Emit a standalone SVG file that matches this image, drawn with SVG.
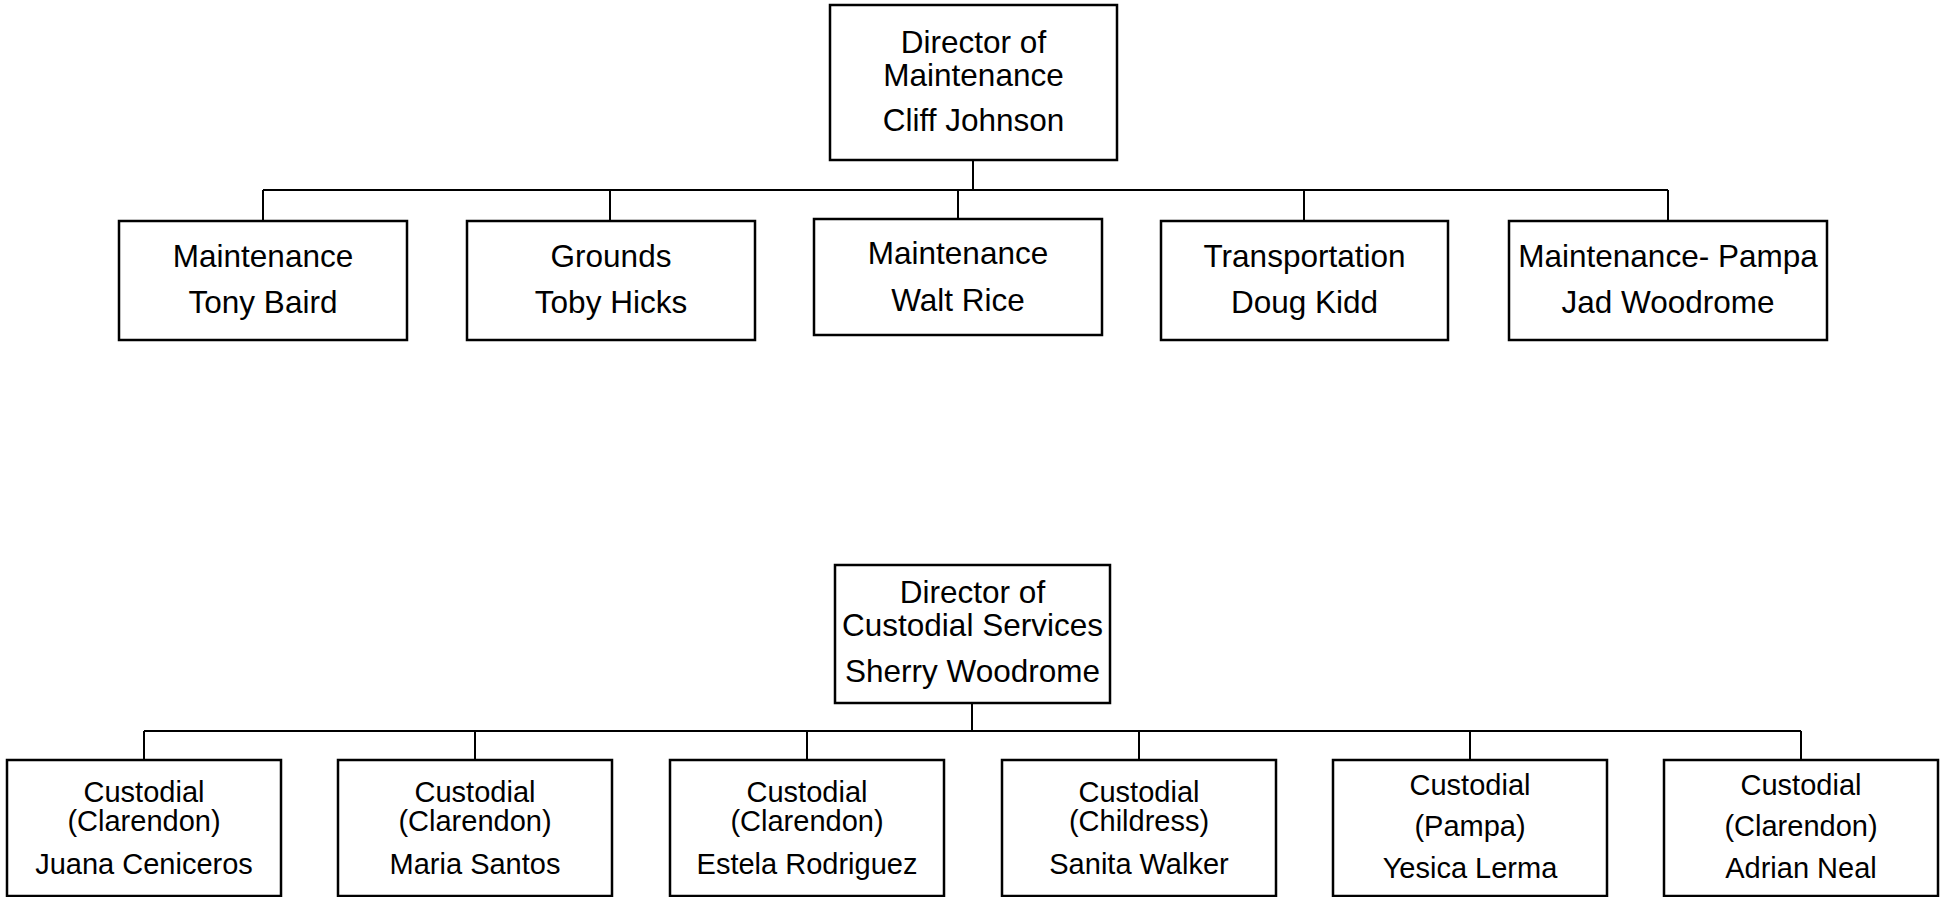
<svg xmlns="http://www.w3.org/2000/svg" width="1948" height="897" viewBox="0 0 1948 897">
<style>
.box{fill:#fff;stroke:#000;stroke-width:2.5}
.conn{fill:none;stroke:#000;stroke-width:2}
text{font-family:"Liberation Sans",Arial,sans-serif;fill:#000;text-anchor:middle}
.t1{font-size:31.5px}
.t2{font-size:29px}
</style>
<rect width="1948" height="897" fill="#fff"/>
<g id="connectors">
<path class="conn" d="M973 160V190M263 190H1668M263 190V221M610 190V221M958 190V219M1304 190V221M1668 190V221"/>
<path class="conn" d="M972 703V731M144 731H1801M144 731V760M475 731V760M807 731V760M1139 731V760M1470 731V760M1801 731V760"/>
</g>
<g id="dir-maint">
<rect class="box" x="830" y="5" width="287" height="155"/>
<text class="t1" x="973.5" y="53">Director of</text>
<text class="t1" x="973.5" y="86">Maintenance</text>
<text class="t1" x="973.5" y="131">Cliff Johnson</text>
</g>
<g id="maint-baird">
<rect class="box" x="119" y="221" width="288" height="119"/>
<text class="t1" x="263" y="267">Maintenance</text>
<text class="t1" x="263" y="313">Tony Baird</text>
</g>
<g id="grounds-hicks">
<rect class="box" x="467" y="221" width="288" height="119"/>
<text class="t1" x="611" y="267">Grounds</text>
<text class="t1" x="611" y="313">Toby Hicks</text>
</g>
<g id="maint-rice">
<rect class="box" x="814" y="219" width="288" height="116"/>
<text class="t1" x="958" y="264">Maintenance</text>
<text class="t1" x="958" y="311">Walt Rice</text>
</g>
<g id="transport-kidd">
<rect class="box" x="1161" y="221" width="287" height="119"/>
<text class="t1" x="1304.5" y="267">Transportation</text>
<text class="t1" x="1304.5" y="313">Doug Kidd</text>
</g>
<g id="maint-pampa">
<rect class="box" x="1509" y="221" width="318" height="119"/>
<text class="t1" x="1668" y="267">Maintenance- Pampa</text>
<text class="t1" x="1668" y="313">Jad Woodrome</text>
</g>
<g id="dir-custodial">
<rect class="box" x="835" y="565" width="275" height="138"/>
<text class="t1" x="972.5" y="603">Director of</text>
<text class="t1" x="972.5" y="636">Custodial Services</text>
<text class="t1" x="972.5" y="682">Sherry Woodrome</text>
</g>
<g id="cust-ceniceros">
<rect class="box" x="7" y="760" width="274" height="136"/>
<text class="t2" x="144" y="802">Custodial</text>
<text class="t2" x="144" y="831">(Clarendon)</text>
<text class="t2" x="144" y="874">Juana Ceniceros</text>
</g>
<g id="cust-santos">
<rect class="box" x="338" y="760" width="274" height="136"/>
<text class="t2" x="475" y="802">Custodial</text>
<text class="t2" x="475" y="831">(Clarendon)</text>
<text class="t2" x="475" y="874">Maria Santos</text>
</g>
<g id="cust-rodriguez">
<rect class="box" x="670" y="760" width="274" height="136"/>
<text class="t2" x="807" y="802">Custodial</text>
<text class="t2" x="807" y="831">(Clarendon)</text>
<text class="t2" x="807" y="874">Estela Rodriguez</text>
</g>
<g id="cust-walker">
<rect class="box" x="1002" y="760" width="274" height="136"/>
<text class="t2" x="1139" y="802">Custodial</text>
<text class="t2" x="1139" y="831">(Childress)</text>
<text class="t2" x="1139" y="874">Sanita Walker</text>
</g>
<g id="cust-lerma">
<rect class="box" x="1333" y="760" width="274" height="136"/>
<text class="t2" x="1470" y="795">Custodial</text>
<text class="t2" x="1470" y="836">(Pampa)</text>
<text class="t2" x="1470" y="878">Yesica Lerma</text>
</g>
<g id="cust-neal">
<rect class="box" x="1664" y="760" width="274" height="136"/>
<text class="t2" x="1801" y="795">Custodial</text>
<text class="t2" x="1801" y="836">(Clarendon)</text>
<text class="t2" x="1801" y="878">Adrian Neal</text>
</g>
</svg>
